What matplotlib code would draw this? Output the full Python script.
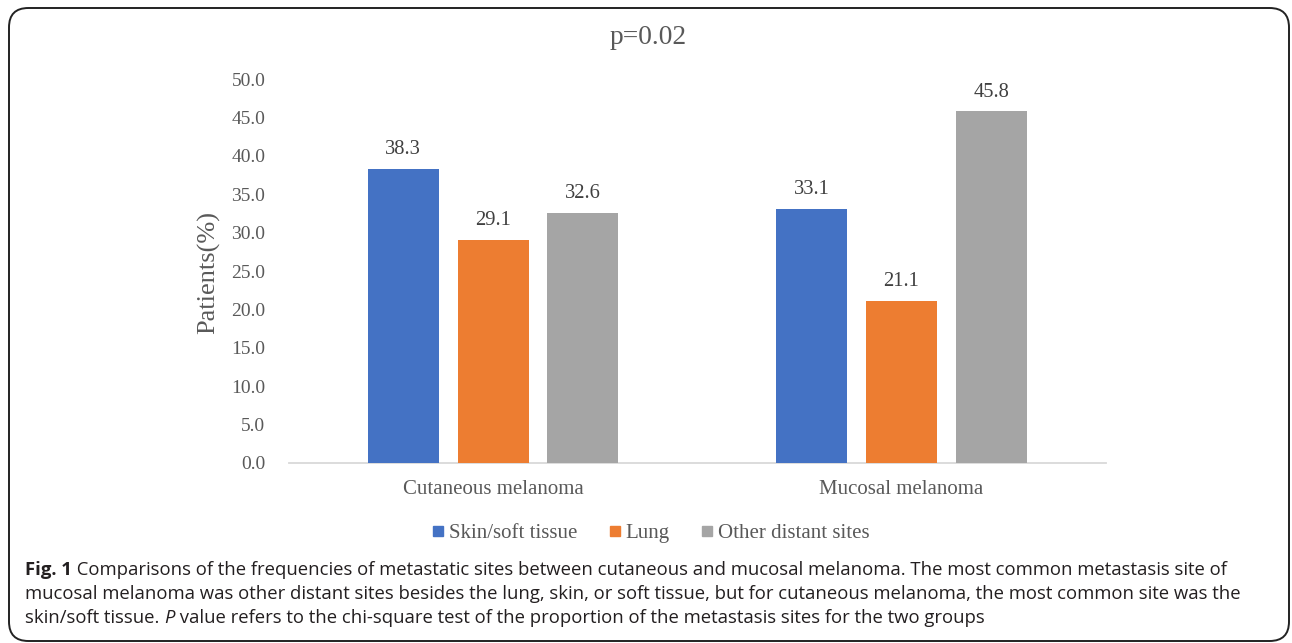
import matplotlib.pyplot as plt
import numpy as np
from matplotlib.lines import Line2D
from matplotlib.patches import FancyBboxPatch

groups = ['Cutaneous melanoma', 'Mucosal melanoma']
sites = ['Skin/soft tissue', 'Lung', 'Other distant sites']
skin = [38.3, 33.1]
lung = [29.1, 21.1]
other = [32.6, 45.8]
colors = ['#4472C4', '#ED7D31', '#A5A5A5']
yticks = [0, 5, 10, 15, 20, 25, 30, 35, 40, 45, 50]

txt = '#595959'
serif = ['Liberation Serif', 'DejaVu Serif']

fig = plt.figure(figsize=(12.92, 6.43), dpi=100)
ax = fig.add_axes([0.2237, 0.280, 0.632, 0.597])

x = np.arange(len(groups))
w = 0.174
step = 0.22
for k, (vals, c) in enumerate(zip([skin, lung, other], colors)):
    bars = ax.bar(x + (k - 1) * step, vals, w, color=c, zorder=3)
    for b, v in zip(bars, vals):
        ax.annotate('%.1f' % v, (b.get_x() + b.get_width() / 2, v),
                    xytext=(0, 7), textcoords='offset points',
                    ha='center', va='bottom', fontsize=14.8,
                    family=serif, color='#404040')

ax.set_xlim(-0.5, 1.5)
ax.set_ylim(0, 50)
ax.set_yticks(yticks)
ax.set_yticklabels(['%.1f' % t for t in yticks], family=serif,
                   fontsize=14, color=txt)
ax.set_xticks(x)
ax.set_xticklabels(groups, family=serif, fontsize=15, color=txt)
ax.tick_params(axis='y', length=0, pad=17)
ax.tick_params(axis='x', length=0, pad=12)
for s in ['top', 'right', 'left']:
    ax.spines[s].set_visible(False)
ax.spines['bottom'].set_color('#D9D9D9')
ax.spines['bottom'].set_linewidth(1.3)

fig.text(648 / 1292, 1 - 37 / 643, 'p=0.02', ha='center', va='center',
         family=serif, fontsize=19.8, color=txt)
fig.text(209 / 1292, 1 - 272 / 643, 'Patients(%)', ha='center', va='center',
         rotation=90, family=serif, fontsize=19, color=txt)

handles = [Line2D([], [], marker='s', linestyle='none', markersize=7.2,
                  markerfacecolor=c, markeredgecolor=c) for c in colors]
fig.legend(handles, sites, loc='center', bbox_to_anchor=(651 / 1292, 1 - 533 / 643),
           ncol=3, frameon=False, handlelength=0.55, handletextpad=0.25,
           columnspacing=1.5, prop={'family': serif, 'size': 15},
           labelcolor=txt)

# caption block under the chart
cap = '#231F20'
sans = 'Open Sans'
cfs = 13.3
x0 = 25 / 1292
lines = [
    'Comparisons of the frequencies of metastatic sites between cutaneous and mucosal melanoma. The most common metastasis site of',
    'mucosal melanoma was other distant sites besides the lung, skin, or soft tissue, but for cutaneous melanoma, the most common site was the',
]
base = [575, 599, 623]
t0 = fig.text(x0, 1 - base[0] / 643, 'Fig. 1', ha='left', va='baseline',
              family=sans, fontweight='bold', fontsize=cfs, color=cap)
ax.annotate(' ' + lines[0], xy=(1, 0), xycoords=t0, ha='left',
            va='bottom', family=sans, fontsize=cfs, color=cap,
            annotation_clip=False)
fig.text(x0, 1 - base[1] / 643, lines[1], ha='left', va='baseline',
         family=sans, fontsize=cfs, color=cap)
t2 = fig.text(x0, 1 - base[2] / 643, 'skin/soft tissue. ', ha='left',
              va='baseline', family=sans, fontsize=cfs, color=cap)
t3 = ax.annotate('P', xy=(1, 0), xycoords=t2, ha='left', va='bottom',
                 family=sans, fontsize=cfs, style='italic', color=cap,
                 annotation_clip=False)
ax.annotate(' value refers to the chi-square test of the proportion of the metastasis sites for the two groups',
            xy=(1, 0), xycoords=t3, ha='left', va='bottom', family=sans,
            fontsize=cfs, color=cap, annotation_clip=False)

box = FancyBboxPatch((9 / 1292, 2 / 643), 1280 / 1292, 633 / 643,
                     boxstyle='round,pad=0,rounding_size=0.015',
                     transform=fig.transFigure, fill=False,
                     edgecolor='#222222', linewidth=1.4,
                     mutation_aspect=1292 / 643)
fig.patches.append(box)

fig.savefig('out.png', dpi=100)
